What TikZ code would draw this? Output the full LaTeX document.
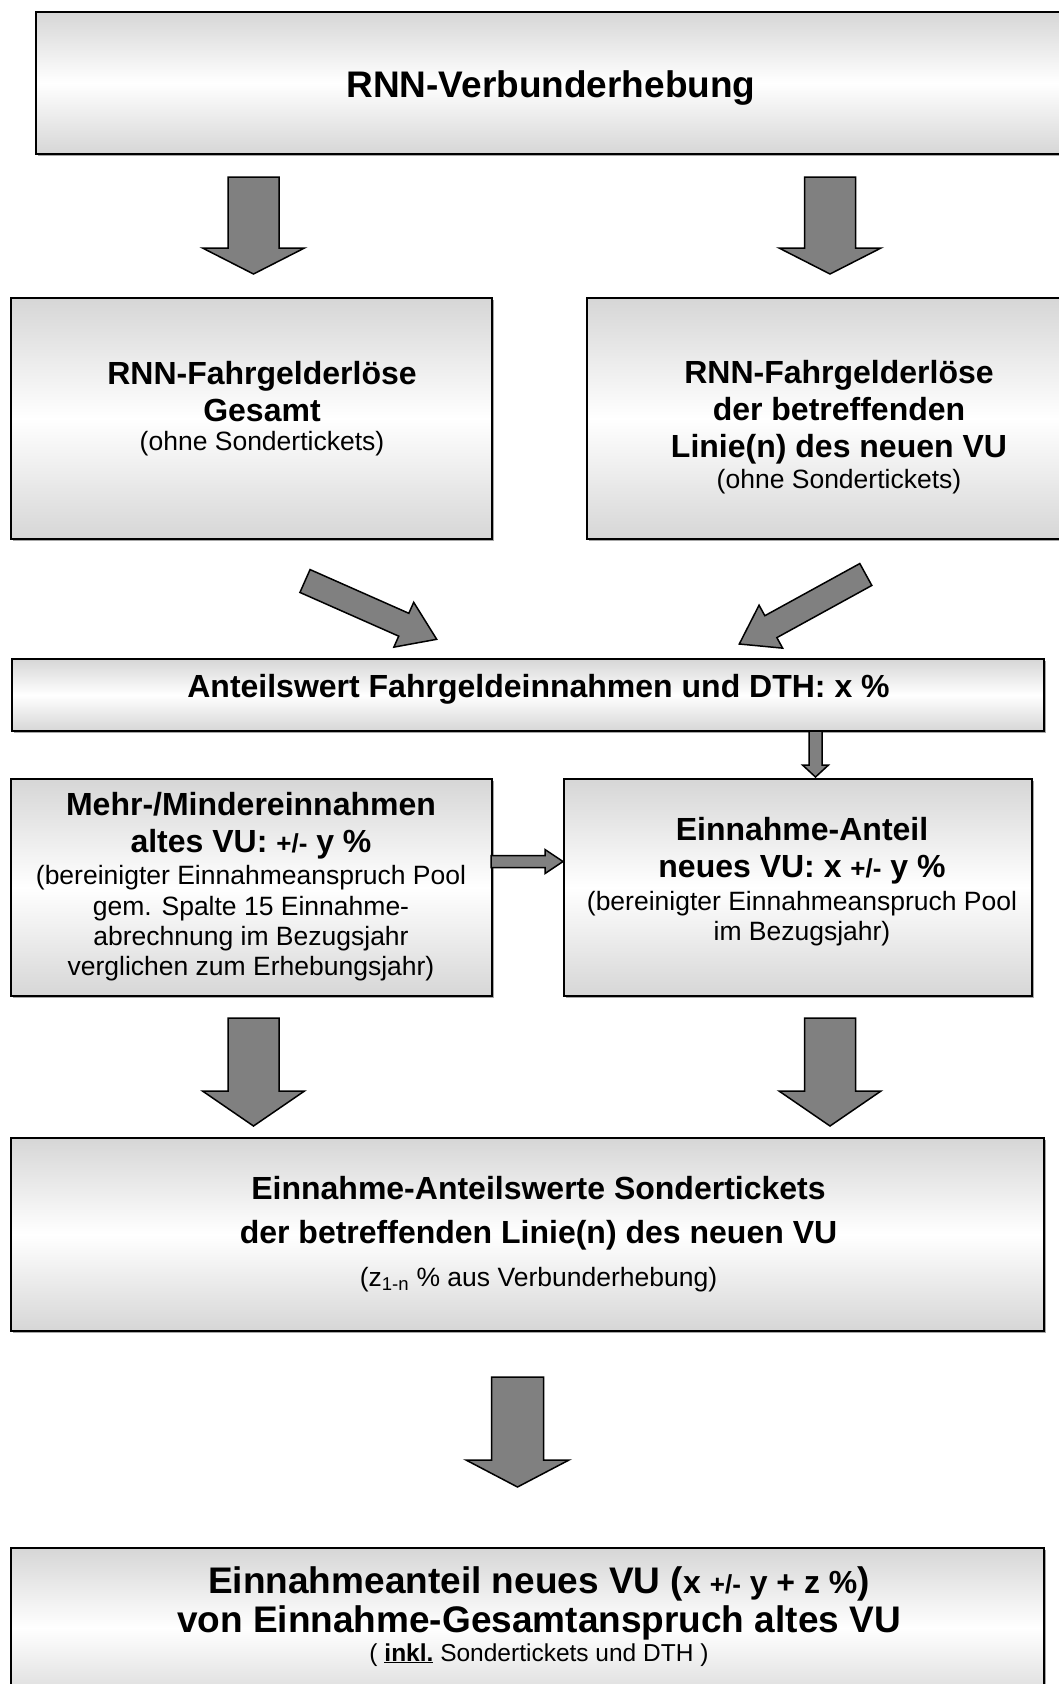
\documentclass[tikz,border=0pt]{standalone}
\usepackage{fontspec}
\setmainfont{Liberation Sans}
\usetikzlibrary{calc,shadows}
\newcommand\regtxt{\mdseries\fontsize{26.5}{30}\selectfont}
\newcommand\smbold{\bfseries\fontsize{26}{30}\selectfont}
\newcommand\midbold{\bfseries\fontsize{32}{37}\selectfont}
\tikzset{
  box/.style={draw=black, line width=2pt, rectangle, anchor=north west, inner sep=0pt,
    top color=gray!32, bottom color=gray!32, middle color=white,
    drop shadow={shadow xshift=1.5pt, shadow yshift=-1.5pt, fill=gray!70, opacity=1}},
  barr/.style={draw=black, line width=1.5pt, fill=gray, line join=miter},
  txt/.style={align=center, anchor=base, inner sep=0pt, font=\fontsize{32}{37}\selectfont\bfseries},
}
% #1 start, #2 tip, #3 half shaft width, #4 half head width, #5 head length
\newcommand\blockarr[5]{%
  \coordinate (hb) at ($(#2)!#5!(#1)$);
  \draw[barr] ($(#1)!#3!90:(#2)$) -- ($(hb)!#3!90:(#2)$) -- ($(hb)!#4!90:(#2)$) -- (#2)
     -- ($(hb)!#4!-90:(#2)$) -- ($(hb)!#3!-90:(#2)$) -- ($(#1)!#3!-90:(#2)$) -- cycle;
}
\begin{document}
\begin{tikzpicture}[x=1pt, y=-1pt]
\useasboundingbox (0,0) rectangle (1059,1684);
% boxes
\node[box, minimum width=1032pt, minimum height=142pt] (b1) at (35,11) {};
\node[box, minimum width=481pt, minimum height=241pt] (b2l) at (10,297) {};
\node[box, minimum width=481pt, minimum height=241pt] (b2r) at (586,297) {};
\node[box, minimum width=1032pt, minimum height=72pt] (b3) at (11,658) {};
\node[box, minimum width=481pt, minimum height=217pt] (b4l) at (10,778) {};
\node[box, minimum width=468pt, minimum height=217pt] (b4r) at (563,778) {};
\node[box, minimum width=1033pt, minimum height=193pt] (b5) at (10,1137) {};
\node[box, minimum width=1033pt, minimum height=160pt] (b6) at (10,1547) {};
% texts (anchor base = baseline of the last line)
\node[txt, font=\fontsize{37}{44}\selectfont\bfseries] (t1) at (551,97) {RNN-Verbunderhebung};
\node[txt] (t2l) at (262,450) {RNN-Fahrgelderlöse\\Gesamt\\[-8pt]{\regtxt (ohne Sondertickets)}};
\node[txt] (t2r) at (839,488) {RNN-Fahrgelderlöse\\der betreffenden\\Linie(n) des neuen VU\\[-6pt]{\regtxt (ohne Sondertickets)}};
\node[txt] (t3) at (538.5,697) {Anteilswert Fahrgeldeinnahmen und DTH: x \%};
\node[txt] (t4l) at (251,975) {Mehr-/Mindereinnahmen\\altes VU: {\smbold +/-} y \%\\[-5.5pt]{\regtxt (bereinigter Einnahmeanspruch Pool}\\[-6pt]{\regtxt gem. Spalte 15 Einnahme-}\\[-7pt]{\regtxt abrechnung im Bezugsjahr}\\[-7pt]{\regtxt verglichen zum Erhebungsjahr)}};
\node[txt] (t4r) at (802,940) {Einnahme-Anteil\\neues VU: x {\smbold +/-} y \%\\[-4pt]{\regtxt (bereinigter Einnahmeanspruch Pool}\\[-7pt]{\regtxt im Bezugsjahr)}};
\node[txt] (t5) at (538.5,1286) {Einnahme-Anteilswerte Sondertickets\\[7pt]der betreffenden Linie(n) des neuen VU\\[6pt]{\regtxt (z\textsubscript{1-n} \% aus Verbunderhebung)}};
\node[txt, font=\fontsize{37}{39}\selectfont\bfseries] (t6) at (539,1661) {Einnahmeanteil neues VU ({\midbold x {\smbold +/-} y + z \%})\\von Einnahme-Gesamtanspruch altes VU\\[-10pt]{\mdseries\fontsize{24.5}{28}\selectfont ( \underline{\textbf{inkl.}} Sondertickets und DTH )}};
% arrow end points
\coordinate (a1s) at (253.5,177); \coordinate (a1e) at (253.5,274);
\coordinate (a2s) at (830,177);   \coordinate (a2e) at (830,274);
\coordinate (a3s) at (305,581);   \coordinate (a3e) at (436.7,639.3);
\coordinate (a4s) at (865.8,574.5); \coordinate (a4e) at (739.3,644);
\coordinate (a5s) at (815.5,731); \coordinate (a5e) at (815.5,777);
\coordinate (a6s) at (491,861.5); \coordinate (a6e) at (563,861.5);
\coordinate (a7s) at (253.5,1018); \coordinate (a7e) at (253.5,1126);
\coordinate (a8s) at (830,1018);   \coordinate (a8e) at (830,1126);
\coordinate (a9s) at (517.5,1377); \coordinate (a9e) at (517.5,1487);
% block arrows
\blockarr{a1s}{a1e}{25.5pt}{51pt}{26pt}
\blockarr{a2s}{a2e}{25.5pt}{51pt}{26pt}
\blockarr{a3s}{a3e}{12.5pt}{24.5pt}{36pt}
\blockarr{a4s}{a4e}{12.5pt}{24.5pt}{36pt}
\blockarr{a5s}{a5e}{6.5pt}{13pt}{12pt}
\blockarr{a6s}{a6e}{6pt}{12pt}{18pt}
\blockarr{a7s}{a7e}{25.5pt}{51pt}{35pt}
\blockarr{a8s}{a8e}{25.5pt}{51pt}{35pt}
\blockarr{a9s}{a9e}{26pt}{51.5pt}{27pt}
\end{tikzpicture}
\end{document}
